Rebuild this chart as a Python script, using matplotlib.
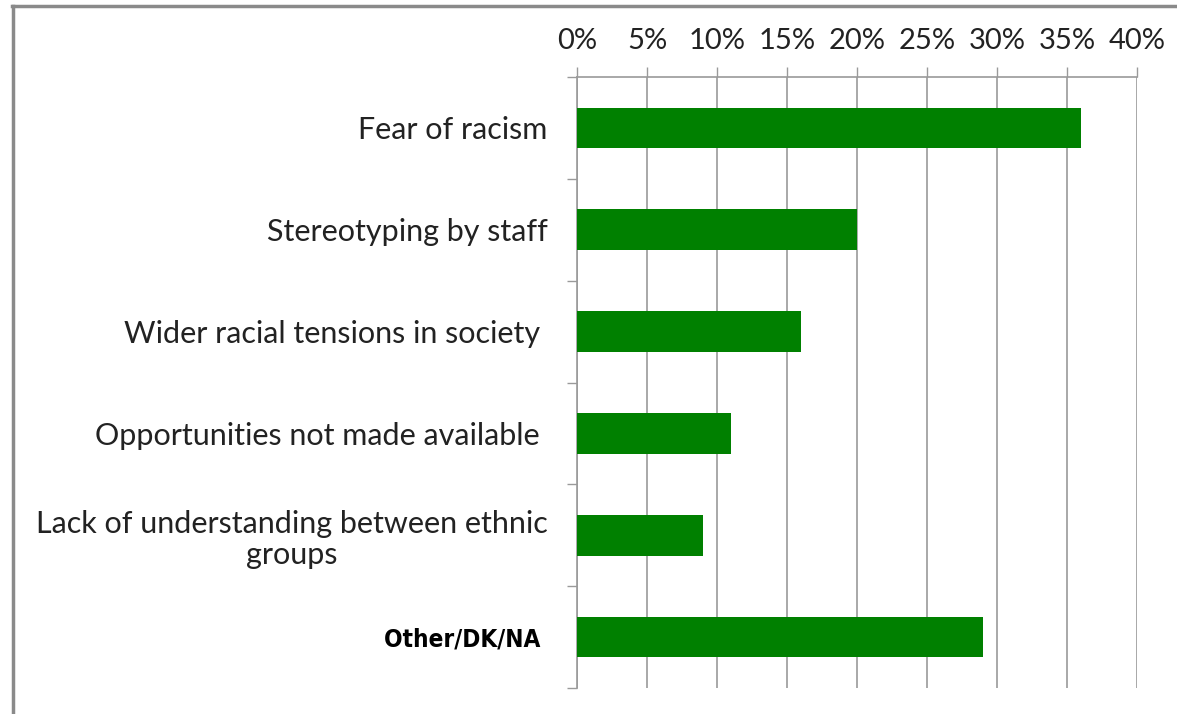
import matplotlib
matplotlib.use("Agg")
import matplotlib.pyplot as plt
from matplotlib.lines import Line2D
from matplotlib.ticker import FixedLocator, PercentFormatter

categories = [
    "Fear of racism",
    "Stereotyping by staff",
    "Wider racial tensions in society ",
    "Opportunities not made available ",
    "Lack of understanding between ethnic\ngroups",
    "Other/DK/NA ",
]
values = [36, 20, 16, 11, 9, 29]
x_ticks = [0, 5, 10, 15, 20, 25, 30, 35, 40]

W, H = 1177, 714
fig = plt.figure(figsize=(W / 100, H / 100), dpi=100)
fig.patch.set_facecolor("white")

left, right, top, bottom = 577, 1137, 77, 688
ax = fig.add_axes([left / W, 1 - bottom / H, (right - left) / W, (bottom - top) / H])

ypos = list(range(len(categories)))
ax.barh(ypos, values, height=0.4, color="#008000", zorder=3)

ax.set_xlim(0, 40)
ax.set_ylim(len(categories) - 0.5, -0.5)

grid_c = "#9a9a9a"
ax.xaxis.tick_top()
ax.set_xticks(x_ticks)
ax.xaxis.set_major_formatter(PercentFormatter(decimals=0))
ax.tick_params(axis="x", which="major", direction="out", length=7.5, width=1,
               color=grid_c, pad=9, labelsize=21, labelcolor="#222222")
ax.grid(axis="x", color=grid_c, linewidth=1.2, zorder=0)

ax.set_yticks(ypos)
ax.set_yticklabels(categories, fontsize=22, color="#222222", family="Lato",
                   multialignment="center", linespacing=1.15)
ax.yaxis.set_minor_locator(FixedLocator([i - 0.5 for i in range(len(categories) + 1)]))
ax.tick_params(axis="y", which="major", length=0, pad=21)
ax.tick_params(axis="y", which="minor", direction="out", length=7, width=1, color=grid_c)

for lbl in ax.get_xticklabels():
    lbl.set_family("Lato")

last = ax.get_yticklabels()[-1]
last.set_fontweight("bold")
last.set_family("DejaVu Sans")
last.set_fontstretch("condensed")
last.set_fontsize(17.5)
last.set_color("black")

for side in ("right", "bottom"):
    ax.spines[side].set_visible(False)
for side in ("top", "left"):
    ax.spines[side].set_color(grid_c)
    ax.spines[side].set_linewidth(1.2)

# outer frame along the top and left edges
fig.add_artist(Line2D([12 / W, 1], [1 - 6 / H, 1 - 6 / H], color="#8a8a8a",
                      linewidth=2.5, transform=fig.transFigure))
fig.add_artist(Line2D([12.5 / W, 12.5 / W], [0, 1 - 6 / H], color="#8a8a8a",
                      linewidth=2.5, transform=fig.transFigure))

fig.savefig("out.png", dpi=100)
